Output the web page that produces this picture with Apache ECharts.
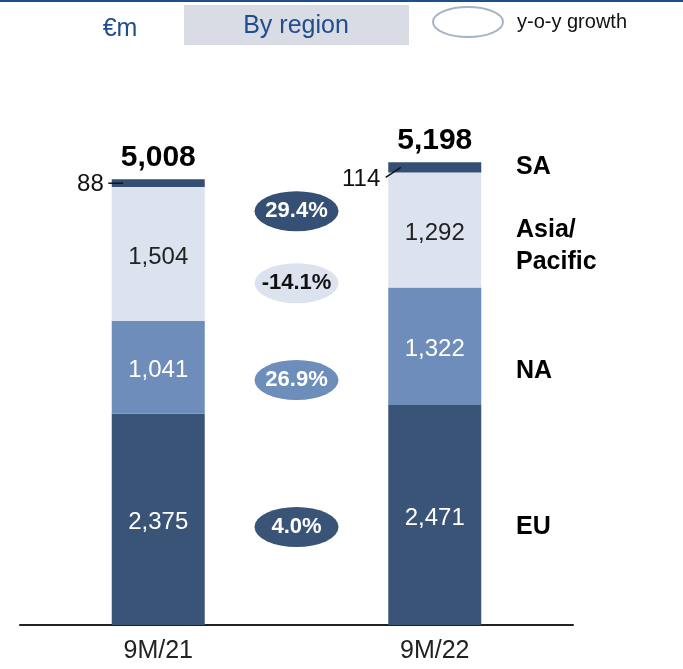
<!DOCTYPE html>
<html>
<head>
<meta charset="utf-8">
<script src="https://cdn.jsdelivr.net/npm/echarts@6/dist/echarts.min.js"></script>
<style>
html,body{margin:0;padding:0;background:#fff;}
#c{width:683px;height:669px;}
</style>
</head>
<body>
<div id="c"></div>
<script>
const categories = ['9M/21', '9M/22'];
const EU = [2375, 2471];
const NA = [1041, 1322];
const AP = [1504, 1292];
const SA = [88, 114];
const totals = [5008, 5198];
const growthLabels = ['29.4%', '-14.1%', '26.9%', '4.0%'];
const regionNames = ['SA', 'Asia/\nPacific', 'NA', 'EU'];

// layout (data-unit heights where the growth bubbles sit)
const bubbleLevels = [4650, 3841, 2752, 1101];
const bubbleColors = ['#364f74', '#dde3ee', '#6d8dbb', '#3a5478'];
const bubbleText = ['#fff', '#111', '#fff', '#fff'];

const FONT = '"Liberation Sans", Arial, sans-serif';
const chart = echarts.init(document.getElementById('c'));

const fmt = v => v.toLocaleString('en-US');

const bubbleData = growthLabels.map((t, i) => ({
  value: [0.5, bubbleLevels[i]],
  itemStyle: { color: bubbleColors[i], opacity: 1 },
  label: { color: bubbleText[i] },
  name: t
}));

const header = [
  { id: 'topline', type: 'rect', shape: { x: 0, y: 0, width: 683, height: 2 }, style: { fill: '#1f4e8c' } },
  { id: 'box', type: 'rect', shape: { x: 184, y: 5, width: 225, height: 40 }, style: { fill: '#d9dce4' } },
  { id: 'title', type: 'text', x: 296, y: 26, style: { text: 'By region', fill: '#1f4e8c', font: '25px ' + FONT, textAlign: 'center', textVerticalAlign: 'middle' } },
  { id: 'unit', type: 'text', x: 120, y: 29, style: { text: '€m', fill: '#1f4e8c', font: '25px ' + FONT, textAlign: 'center', textVerticalAlign: 'middle' } },
  { id: 'legEl', type: 'ellipse', shape: { cx: 468, cy: 22, rx: 35, ry: 15 }, style: { fill: '#fff', stroke: '#a3b4c6', lineWidth: 2 } },
  { id: 'legTx', type: 'text', x: 517, y: 22, style: { text: 'y-o-y growth', fill: '#111', font: '20px ' + FONT, textAlign: 'left', textVerticalAlign: 'middle' } },
  { id: 'r0', type: 'text', x: 516, y: 167, style: { text: regionNames[0], fill: '#000', font: 'bold 25px ' + FONT, textVerticalAlign: 'middle' } },
  { id: 'r1', type: 'text', x: 516, y: 246, style: { text: regionNames[1], fill: '#000', font: 'bold 25px ' + FONT, textVerticalAlign: 'middle', lineHeight: 32 } },
  { id: 'r2', type: 'text', x: 516, y: 371, style: { text: regionNames[2], fill: '#000', font: 'bold 25px ' + FONT, textVerticalAlign: 'middle' } },
  { id: 'r3', type: 'text', x: 516, y: 527, style: { text: regionNames[3], fill: '#000', font: 'bold 25px ' + FONT, textVerticalAlign: 'middle' } }
];

const innerLabel = color => ({ show: true, position: 'inside', offset: [0, 3], color: color, fontSize: 24, fontFamily: FONT, formatter: p => fmt(p.value) });

chart.setOption({
  animation: false,
  backgroundColor: '#fff',
  grid: { left: 20, right: 110, top: 91, bottom: 44 },
  xAxis: [
    {
      type: 'category', data: categories,
      axisLine: { lineStyle: { color: '#222', width: 2 } },
      axisTick: { show: false },
      axisLabel: { color: '#222', fontSize: 25, fontFamily: FONT, margin: 14 }
    },
    { type: 'value', min: 0, max: 1, show: false }
  ],
  yAxis: { type: 'value', min: 0, max: 6000, show: false },
  series: [
    { name: 'EU', type: 'bar', stack: 't', barWidth: 93, data: EU, itemStyle: { color: '#3a5478' }, label: innerLabel('#fff') },
    { name: 'NA', type: 'bar', stack: 't', barWidth: 93, data: NA, itemStyle: { color: '#6e8dba' }, label: innerLabel('#fff') },
    { name: 'Asia/Pacific', type: 'bar', stack: 't', barWidth: 93, data: AP, itemStyle: { color: '#dde3ee' }, label: innerLabel('#222') },
    {
      name: 'SA', type: 'bar', stack: 't', barWidth: 93,
      data: SA.map((v, i) => ({
        value: v,
        label: i === 0 ? { offset: [0, 1], distance: 8 } : { offset: [0, 12], distance: 8 }
      })),
      itemStyle: { color: '#354f74' },
      label: { show: true, position: 'left', color: '#111', fontSize: 24, fontFamily: FONT, formatter: p => fmt(p.value) }
    },
    {
      name: 'Total', type: 'scatter', data: totals, symbolSize: 0,
      itemStyle: { opacity: 1 },
      label: { show: true, position: 'top', distance: 7, color: '#000', fontSize: 30, fontWeight: 'bold', fontFamily: FONT, formatter: p => fmt(p.value) }
    },
    {
      name: 'Growth', type: 'scatter', xAxisIndex: 1, data: bubbleData,
      symbol: 'circle', symbolSize: [84, 40],
      itemStyle: { opacity: 1 },
      label: { show: true, position: 'inside', fontSize: 22, fontWeight: 'bold', fontFamily: FONT, formatter: p => p.name }
    }
  ],
  graphic: header
});

// leader lines for the small SA values
const lines = SA.map((v, i) => {
  const p = chart.convertToPixel({ seriesIndex: 0 }, [i, totals[i] - v / 2]);
  const shape = i === 0
    ? { x1: p[0] - 50, y1: p[1], x2: p[0] - 35, y2: p[1] }
    : { x1: p[0] - 49, y1: p[1] + 10, x2: p[0] - 34, y2: p[1] };
  return { id: 'leader' + i, type: 'line', z: 100, shape: shape, style: { stroke: '#111', lineWidth: 1.5 } };
});
chart.setOption({ graphic: header.concat(lines) });
</script>
</body>
</html>
